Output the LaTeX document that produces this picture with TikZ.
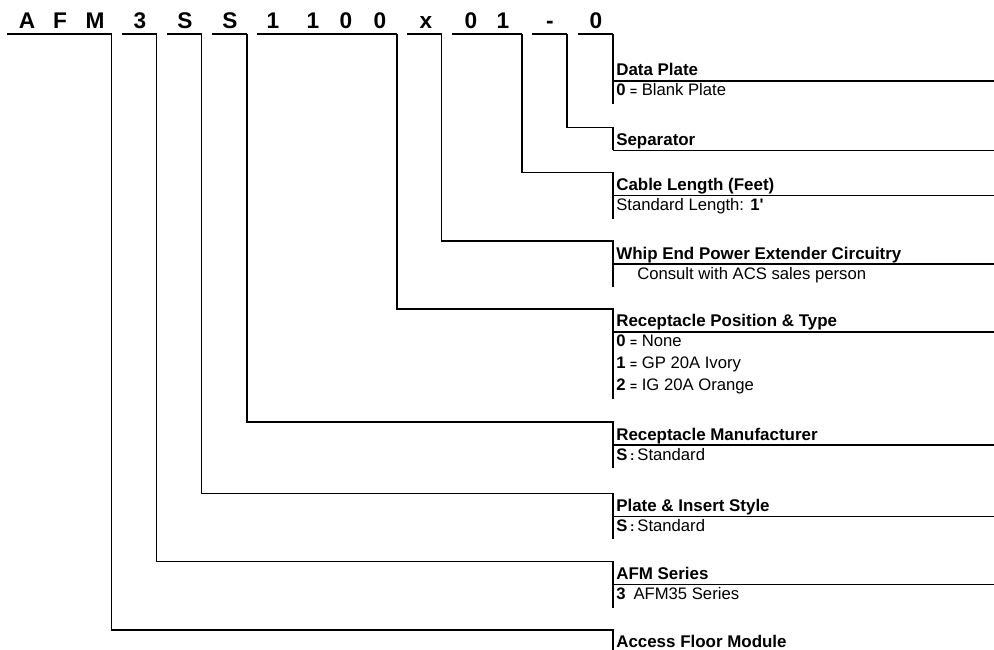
\documentclass[tikz,border=0pt]{standalone}
\usepackage{fontspec}
\setmainfont{Liberation Sans}
\begin{document}
\begin{tikzpicture}[x=0.75pt,y=-0.75pt,
  code/.style={font=\fontsize{17}{17}\selectfont\bfseries,anchor=base,inner sep=0pt},
  ttl/.style={font=\fontsize{12.7}{15}\selectfont\bfseries,anchor=base west,inner sep=0pt},
  dsc/.style={font=\fontsize{12.5}{15}\selectfont,anchor=base west,inner sep=0pt},
  ln/.style={line width=1.1pt},
  uln/.style={line width=1.5pt}]
\useasboundingbox (0,0) rectangle (994,649);
% code letters
\foreach \ch/\cx [count=\i] in {A/27,F/60,M/95,3/140,S/185,S/230,1/273,1/313,0/346,0/380,x/426,0/471,1/503,-/550,0/596}
  \node[code] (c\i) at (\cx,28.3) {\ch};
% segments, brackets and title frames: index/xa/xb/bracket/end
\foreach \k/\xa/\xb/\b/\e in {1/578/613/58/104, 2/532/567/127.3/150.3, 3/452/522/172.7/218.7,
    4/407/441.7/241/287, 5/257/397/308.8/398.8, 6/211.7/247/422/468,
    7/166.7/201.7/493.3/539.3, 8/122/156.7/561.5/607.5, 9/6.7/111.7/630/652}{
  \coordinate (a\k) at (\xa,34.3);
  \coordinate (k\k) at (\xb,34.3);
  \coordinate (b\k) at (613,\b);
  \coordinate (e\k) at (613,\e);
  \coordinate (u\k) at (613,\b+23);
  \coordinate (v\k) at (994,\b+23);
  \draw[uln] (a\k) -- (k\k);
  \draw[ln] (k\k) |- (b\k) -- (e\k);
  \draw[ln] (u\k) -- (v\k);
}
% titles
\node[ttl] (t1) at (616,76) {Data Plate};
\node[ttl] (t2) at (616,145.3) {Separator};
\node[ttl] (t3) at (616,190.7) {Cable Length (Feet)};
\node[ttl] (t4) at (616,259) {Whip End Power Extender Circuitry};
\node[ttl] (t5) at (616,326.8) {Receptacle Position \& Type};
\node[ttl] (t6) at (616,440) {Receptacle Manufacturer};
\node[ttl] (t7) at (616,511.3) {Plate \& Insert Style};
\node[ttl] (t8) at (616,579.5) {AFM Series};
\node[ttl] (t9) at (616,647) {Access Floor Module};
% descriptions
\node[dsc] (d1) at (616,96) {\textbf{0 {\fontsize{9}{9}\selectfont =}} Blank Plate};
\node[dsc] (d3) at (616,210.7) {Standard Length: \textbf{1\textquotesingle}};
\node[dsc] (d4) at (637,279) {Consult with ACS sales person};
\node[dsc] (d5a) at (616,346.8) {\textbf{0 {\fontsize{9}{9}\selectfont =}} None};
\node[dsc] (d5b) at (616,368.8) {\textbf{1 {\fontsize{9}{9}\selectfont =}} GP 20A Ivory};
\node[dsc] (d5c) at (616,390.8) {\textbf{2 {\fontsize{9}{9}\selectfont =}} IG 20A Orange};
\node[dsc] (d6) at (616,460) {\textbf{S}\,{\fontsize{10}{10}\selectfont\textbf{:}}\,Standard};
\node[dsc] (d7) at (616,531.3) {\textbf{S}\,{\fontsize{10}{10}\selectfont\textbf{:}}\,Standard};
\node[dsc] (d8) at (616,599.5) {\textbf{3}\hspace{6pt}AFM35 Series};
\end{tikzpicture}
\end{document}
